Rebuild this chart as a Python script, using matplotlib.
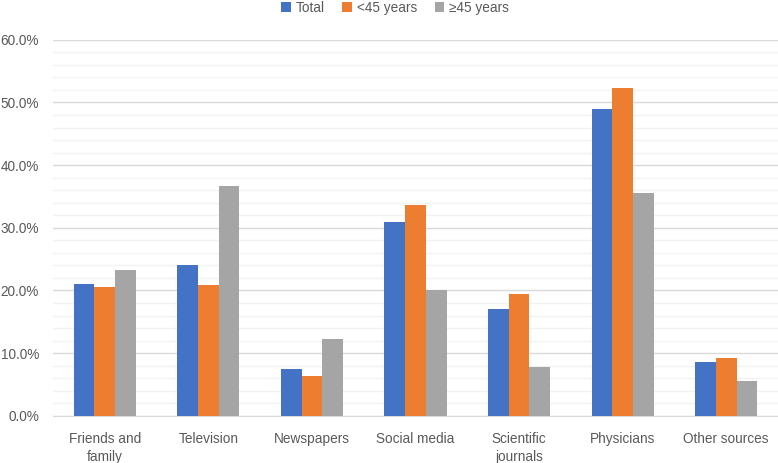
import numpy as np
import matplotlib.pyplot as plt
from matplotlib.ticker import MultipleLocator, PercentFormatter

categories = ["Friends and\nfamily", "Television", "Newspapers", "Social media",
              "Scientific\njournals", "Physicians", "Other sources"]
total = [21.1, 24.0, 7.5, 31.0, 17.1, 49.0, 8.6]
under45 = [20.5, 20.8, 6.3, 33.6, 19.5, 52.3, 9.3]
over45 = [23.3, 36.7, 12.2, 20.0, 7.8, 35.6, 5.6]
series_names = ["Total", "<45 years", "\u226545 years"]
colors = ["#4472C4", "#ED7D31", "#A5A5A5"]

plt.rcParams['font.family'] = ['Liberation Sans', 'DejaVu Sans']
text_color = "#595959"

fig = plt.figure(figsize=(7.78, 4.63), dpi=100)
ax = fig.add_axes([0.068, 0.102, 0.932, 0.812])

x = np.arange(len(categories))
w = 0.2
for i, (vals, name, c) in enumerate(zip([total, under45, over45], series_names, colors)):
    ax.bar(x + (i - 1) * w, vals, width=w, color=c, label=name, zorder=3)

ax.set_xlim(-0.5, len(categories) - 0.5)
ax.set_ylim(0, 60)
ax.yaxis.set_major_locator(MultipleLocator(10))
ax.yaxis.set_minor_locator(MultipleLocator(2))
ax.yaxis.set_major_formatter(PercentFormatter(decimals=1))
ax.grid(axis='y', which='major', color="#D9D9D9", linewidth=1.0, zorder=0)
ax.grid(axis='y', which='minor', color="#F2F2F2", linewidth=1.0, zorder=0)

for s in ["top", "right", "left"]:
    ax.spines[s].set_visible(False)
ax.spines["bottom"].set_color("#D9D9D9")

ax.set_xticks(x)
ax.set_xticklabels(categories, fontsize=9.8, color=text_color, linespacing=1.35)
ax.tick_params(axis='x', length=0, pad=12)
ax.tick_params(axis='y', which='both', length=0, labelsize=9.8, labelcolor=text_color, pad=10)

leg = ax.legend(loc='center', bbox_to_anchor=(0.472, 1.085), ncol=3, frameon=False,
                fontsize=9.8, handlelength=0.7, handleheight=0.7, handletextpad=0.35,
                columnspacing=1.3, borderaxespad=0)
for t in leg.get_texts():
    t.set_color(text_color)

fig.savefig("out.png", dpi=100)
